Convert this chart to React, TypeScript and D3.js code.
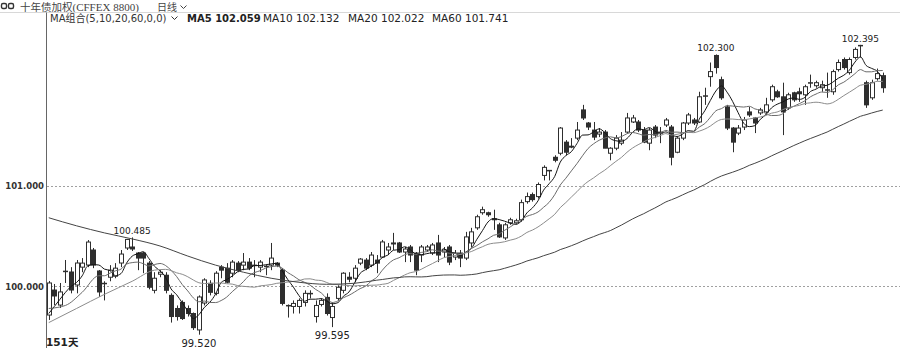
import React from 'react';
import * as d3 from 'd3';

// ---- data (151 daily candles) ----
const opens = [
  99.715, 99.963, 99.814, 100.14, 100.142, 100.013, 100.19, 100.211, 100.36, 100.152,
  100.02, 100.09, 100.10, 100.231, 100.38, 100.39, 100.33, 100.33, 100.23, 99.96,
  100.12, 100.11, 99.91, 99.78, 99.84, 99.78, 99.73, 99.567, 99.834, 100.03,
  99.93, 100.19, 100.18, 100.13, 100.23, 100.21, 100.24, 100.20, 100.19, 100.19,
  100.21, 100.23, 100.16, 99.80, 99.80, 99.80, 99.84, 99.92, 99.70, 99.82,
  99.89, 99.69, 99.88, 99.96, 100.09, 100.08, 100.23, 100.26, 100.21, 100.26,
  100.29, 100.36, 100.43, 100.43, 100.34, 100.39, 100.33, 100.31, 100.36, 100.33,
  100.43, 100.34, 100.39, 100.29, 100.33, 100.28, 100.43, 100.58, 100.73, 100.73,
  100.67, 100.61, 100.48, 100.63, 100.63, 100.66, 100.84, 100.91, 100.89, 101.10,
  101.14, 101.28, 101.32, 101.43, 101.39, 101.47, 101.75, 101.62, 101.55, 101.51,
  101.53, 101.32, 101.37, 101.42, 101.53, 101.63, 101.63, 101.55, 101.42, 101.58,
  101.53, 101.60, 101.58, 101.33, 101.47, 101.62, 101.65, 101.63, 101.88, 102.08,
  102.29, 102.05, 101.78, 101.57, 101.52, 101.58, 101.73, 101.67, 101.72, 101.73,
  101.85, 101.93, 101.88, 101.77, 101.92, 101.93, 101.90, 102.01, 101.99, 101.97,
  101.94, 101.93, 102.15, 102.25, 102.12, 102.27, 102.38, 102.02, 101.87, 102.06,
  102.09,
];
const highs = [
  100.053, 100.023, 100.033, 100.261, 100.19, 100.261, 100.28, 100.459, 100.38, 100.162,
  100.05, 100.21, 100.23, 100.36, 100.47, 100.485, 100.34, 100.34, 100.25, 100.14,
  100.16, 100.14, 99.93, 99.81, 99.86, 99.81, 99.74, 99.91, 100.08, 100.06,
  100.15, 100.21, 100.23, 100.26, 100.25, 100.33, 100.28, 100.26, 100.26, 100.21,
  100.43, 100.24, 100.18, 99.82, 99.86, 99.88, 99.96, 99.96, 99.86, 99.88,
  99.93, 99.84, 100.01, 100.14, 100.14, 100.21, 100.28, 100.28, 100.34, 100.31,
  100.46, 100.43, 100.53, 100.44, 100.39, 100.41, 100.34, 100.41, 100.41, 100.43,
  100.51, 100.39, 100.41, 100.36, 100.36, 100.54, 100.58, 100.71, 100.79, 100.74,
  100.76, 100.63, 100.63, 100.68, 100.67, 100.86, 100.93, 100.93, 101.03, 101.20,
  101.15, 101.30, 101.58, 101.45, 101.47, 101.63, 101.80, 101.63, 101.63, 101.57,
  101.55, 101.38, 101.50, 101.53, 101.72, 101.70, 101.65, 101.58, 101.57, 101.60,
  101.58, 101.67, 101.60, 101.48, 101.63, 101.72, 101.67, 101.93, 101.97, 102.22,
  102.30, 102.08, 101.80, 101.58, 101.60, 101.68, 101.78, 101.68, 101.77, 101.87,
  102.00, 101.95, 102.02, 101.92, 101.93, 101.97, 102.00, 102.10, 102.04, 102.04,
  102.12, 102.15, 102.25, 102.27, 102.27, 102.37, 102.395, 102.04, 102.05, 102.16,
  102.12,
];
const lows = [
  99.666, 99.814, 99.785, 100.033, 99.93, 99.93, 100.14, 100.19, 100.18, 99.894,
  99.86, 100.05, 100.08, 100.19, 100.36, 100.35, 100.16, 100.13, 99.97, 99.93,
  100.09, 99.93, 99.64, 99.66, 99.666, 99.70, 99.567, 99.52, 99.81, 99.91,
  99.91, 100.08, 100.03, 100.09, 100.14, 100.16, 100.16, 100.09, 100.14, 100.11,
  100.16, 100.19, 99.81, 99.69, 99.73, 99.73, 99.80, 99.88, 99.64, 99.80,
  99.71, 99.595, 99.86, 99.93, 100.04, 100.04, 100.21, 100.16, 100.19, 100.13,
  100.28, 100.31, 100.36, 100.33, 100.24, 100.24, 100.11, 100.24, 100.34, 100.31,
  100.24, 100.29, 100.21, 100.26, 100.19, 100.26, 100.39, 100.56, 100.71, 100.69,
  100.56, 100.48, 100.46, 100.61, 100.62, 100.64, 100.82, 100.84, 100.87, 101.05,
  101.05, 101.23, 101.30, 101.30, 101.37, 101.45, 101.65, 101.55, 101.45, 101.48,
  101.37, 101.25, 101.35, 101.40, 101.52, 101.62, 101.53, 101.42, 101.35, 101.47,
  101.42, 101.58, 101.20, 101.32, 101.45, 101.60, 101.60, 101.62, 101.80, 101.98,
  102.11, 101.85, 101.55, 101.33, 101.50, 101.55, 101.68, 101.52, 101.70, 101.70,
  101.83, 101.87, 101.50, 101.75, 101.83, 101.83, 101.80, 101.97, 101.97, 101.93,
  101.87, 101.90, 102.13, 102.15, 102.10, 102.25, 102.27, 101.77, 101.85, 102.04,
  101.92,
];
const closes = [
  100.033, 99.904, 99.944, 100.15, 99.963, 100.231, 100.23, 100.439, 100.211, 99.944,
  100.03, 100.16, 100.18, 100.32, 100.465, 100.37, 100.28, 100.28, 99.99, 100.08,
  100.14, 99.96, 99.70, 99.70, 99.68, 99.73, 99.59, 99.894, 100.063, 99.94,
  100.13, 100.16, 100.04, 100.24, 100.16, 100.24, 100.18, 100.21, 100.24, 100.20,
  100.28, 100.21, 99.83, 99.81, 99.83, 99.86, 99.93, 99.93, 99.81, 99.86,
  99.73, 99.80, 99.99, 100.13, 100.07, 100.18, 100.27, 100.18, 100.31, 100.23,
  100.44, 100.39, 100.42, 100.34, 100.37, 100.31, 100.16, 100.39, 100.39, 100.41,
  100.31, 100.36, 100.24, 100.33, 100.28, 100.49, 100.54, 100.69, 100.76, 100.71,
  100.66, 100.49, 100.61, 100.66, 100.65, 100.83, 100.89, 100.86, 101.01, 101.18,
  101.15, 101.25, 101.57, 101.33, 101.38, 101.55, 101.67, 101.58, 101.48, 101.53,
  101.37, 101.37, 101.47, 101.45, 101.67, 101.67, 101.55, 101.43, 101.55, 101.50,
  101.53, 101.65, 101.28, 101.47, 101.62, 101.70, 101.62, 101.88, 101.89, 102.13,
  102.17, 101.87, 101.57, 101.43, 101.57, 101.65, 101.70, 101.62, 101.75, 101.80,
  101.98, 101.88, 101.73, 101.90, 101.85, 101.91, 101.98, 102.02, 102.02, 102.00,
  101.95, 102.13, 102.22, 102.17, 102.25, 102.35, 102.39, 101.80, 102.02, 102.11,
  101.97,
];

// moving-average settings and the values shown in the legend
const maPeriods = [5, 10, 20, 60];
const maNames = ['MA5', 'MA10', 'MA20', 'MA60'];
const maLatest = [102.059, 102.132, 102.022, 101.741];
const ma5Head: [number, number][] = [[0, 99.73], [1, 99.8], [2, 99.87], [3, 99.94]];
const ma10Head: [number, number][] = [[0, 99.78], [3, 99.81], [6, 99.94]];
const ma20Head: [number, number][] = [[0, 99.64], [5, 99.78], [10, 99.92], [15, 100.05]];
const ma60Head: [number, number][] = [
  [0, 100.68], [5, 100.6], [10, 100.53], [15, 100.47], [20, 100.4], [25, 100.3],
  [30, 100.21], [35, 100.14], [40, 100.08], [45, 100.04], [50, 100.02], [55, 100.03],
];

const yTicks = [100, 101];
const markIdx = [15, 27, 51, 120, 146];
const markKind = ['high', 'low', 'low', 'high', 'high'];
const dayCountLabel = '151天';
const titleCn = '十年债加权';
const titleCode = '(CFFEX 8800)';
const periodLabel = '日线';
const maGroupLabel = 'MA组合(5,10,20,60,0,0)';

const W = 900;
const H = 348;
const SANS = "'DejaVu Sans', 'Noto Sans CJK SC', sans-serif";

export default function App() {
  const n = closes.length;
  const x = d3.scaleBand<number>().domain(d3.range(n)).range([46, 885.5]);
  const cx = (i: number) => (x(i) as number) + x.bandwidth() / 2;
  const y = d3.scaleLinear().domain([100, 101]).range([286.3, 185.5]);

  const heads = [ma5Head, ma10Head, ma20Head, ma60Head];
  const maSeries = maPeriods.map((p, k) => {
    const pts = heads[k].map(([i, v]) => ({ i, v }));
    for (let i = p - 1; i < n; i++) {
      pts.push({ i, v: d3.mean(closes.slice(i - p + 1, i + 1)) as number });
    }
    return pts;
  });
  const line = d3
    .line<{ i: number; v: number }>()
    .x((d) => cx(d.i))
    .y((d) => y(d.v))
    .curve(d3.curveMonotoneX);
  const maColors = ['#151515', '#6b6b6b', '#8c8c8c', '#444444'];
  const maWidths = [1, 1, 1, 1];

  const fmt = d3.format('.3f');
  const dark = '#2e2e2e';

  return (
    <div style={{ position: 'fixed', left: 0, top: 0 }}>
      <svg width={W} height={H} style={{ display: 'block', background: '#fff' }}>
        <rect x={0} y={0} width={W} height={H} fill="#ffffff" />
        {/* header line 1 */}
        <g stroke="#333" strokeWidth={1.4} fill="#fff">
          <rect x={1.5} y={3.5} width={5} height={5} rx={1.5} />
          <rect x={8.5} y={3.5} width={5} height={5} rx={1.5} />
        </g>
        <text x={20} y={10.5} fontSize={10.5} fill="#444" fontFamily="'Noto Sans CJK SC', sans-serif">
          {titleCn}
          <tspan fontFamily="'Liberation Serif', serif" fontSize={11}>{titleCode}</tspan>
        </text>
        <text x={157} y={10.5} fontSize={10} fill="#444" fontFamily="'Noto Sans CJK SC', sans-serif">
          {periodLabel}
        </text>
        <path d="M180.5,5.5 L183.5,8.5 L186.5,5.5" fill="none" stroke="#444" strokeWidth={1} />
        <line x1={0} x2={W} y1={12.5} y2={12.5} stroke="#d8d8d8" />
        {/* header line 2 */}
        <text x={50} y={21.5} fontSize={10} fill="#333" fontFamily={SANS}>
          {maGroupLabel}
        </text>
        <path d="M171.5,16.5 L174.5,19.5 L177.5,16.5" fill="none" stroke="#333" strokeWidth={1} />
        {maNames.map((nm, k) => (
          <text
            key={nm}
            x={[187, 263, 348, 432][k]}
            y={21.5}
            fontSize={k === 0 ? 10 : 10.5}
            fontWeight={k === 0 ? 'bold' : 'normal'}
            fill="#222"
            fontFamily={SANS}
          >
            {nm} {fmt(maLatest[k])}
          </text>
        ))}
        {/* axis line */}
        <line x1={46.5} x2={46.5} y1={12.5} y2={H} stroke="#666" />
        {/* grid + y labels */}
        {yTicks.map((t) => (
          <g key={t}>
            <line
              x1={47}
              x2={W}
              y1={Math.round(y(t)) + 0.5}
              y2={Math.round(y(t)) + 0.5}
              stroke="#a0a0a0"
              strokeDasharray="2,2"
            />
            <text x={44} y={y(t) + 3.5} fontSize={8.5} fontWeight="bold" fill="#333" textAnchor="end" fontFamily={SANS}>
              {fmt(t)}
            </text>
          </g>
        ))}
        {/* candles */}
        {closes.map((c, i) => {
          const o = opens[i];
          const R = Math.round(cx(i));
          const up = c >= o;
          const top = y(Math.max(o, c));
          const bot = y(Math.min(o, c));
          const h = Math.max(bot - top, 1);
          return (
            <g key={i}>
              <line x1={R + 0.5} x2={R + 0.5} y1={y(highs[i])} y2={y(lows[i])} stroke={dark} strokeWidth={1} />
              {up ? (
                h < 2 ? (
                  <rect x={R - 2} y={top - 0.5} width={5} height={1.5} fill={dark} />
                ) : (
                  <rect x={R - 1.5} y={top} width={4} height={h} fill="#fff" stroke={dark} strokeWidth={1} />
                )
              ) : (
                <rect x={R - 2} y={top - 0.5} width={5} height={h + 1} fill={dark} />
              )}
            </g>
          );
        })}
        {/* moving averages */}
        {maSeries.map((pts, k) => (
          <path key={k} d={line(pts) as string} fill="none" stroke={maColors[k]} strokeWidth={maWidths[k]} />
        ))}
        {/* extreme labels */}
        {markIdx.map((i, k) => {
          const isHigh = markKind[k] === 'high';
          const v = isHigh ? highs[i] : lows[i];
          return (
            <text
              key={i}
              x={cx(i)}
              y={isHigh ? y(v) - 3 : y(v) + 12}
              fontSize={isHigh ? 9 : 10}
              textAnchor="middle"
              fill="#222"
              fontFamily={SANS}
            >
              {fmt(v)}
            </text>
          );
        })}
        <text x={46} y={346} fontSize={10.5} fontWeight="bold" fill="#222" fontFamily={SANS}>
          {dayCountLabel}
        </text>
      </svg>
    </div>
  );
}
